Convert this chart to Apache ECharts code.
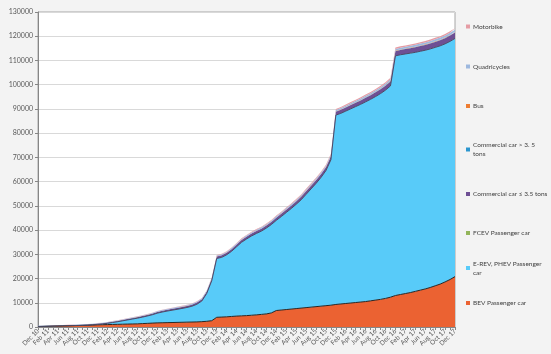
<!DOCTYPE html>
<html>
<head>
<meta charset="utf-8">
<title>EV stock</title>
<script src="https://cdn.jsdelivr.net/npm/echarts@6/dist/echarts.min.js"></script>
<style>
  html, body { margin: 0; padding: 0; background: #f3f3f3; }
  #main { width: 551px; height: 354px; }
</style>
</head>
<body>
<div id="main"></div>
<script>
// month labels Dec 10 .. Dec 17
var monthNames = ['Jan','Feb','Mar','Apr','May','Jun','Jul','Aug','Sep','Oct','Nov','Dec'];
var months = [];
for (var k = 11; k <= 11 + 84; k++) {
    months.push(monthNames[k % 12] + ' ' + (10 + Math.floor(k / 12)));
}

// stacked series, bottom to top
var bev = [200,250,300,350,400,450,500,550,600,650,700,800,900,
    950,1000,1050,1100,1150,1200,1250,1300,1400,1500,1600,1700,
    1750,1800,1850,1900,1950,2000,2050,2100,2200,2350,2600,4000,
    4100,4200,4350,4500,4600,4700,4850,5000,5200,5400,5800,6800,
    7000,7200,7400,7600,7800,8000,8200,8400,8600,8800,9000,9300,
    9500,9700,9900,10100,10300,10500,10800,11100,11400,11800,12300,13000,
    13400,13800,14200,14700,15200,15700,16300,17000,17700,18600,19600,20800];
var phev = [10,12,15,18,20,25,30,35,40,50,70,100,200,
    300,520,790,1060,1380,1700,2020,2340,2660,3030,3440,4000,
    4410,4770,5080,5390,5700,6050,6510,7270,8530,11540,16540,24290,
    24640,25600,26900,28600,30360,31610,32710,33610,34370,35420,36470,37220,
    38570,40030,41480,43030,44690,46740,48790,50840,53100,55750,60000,78150,
    78680,79410,80150,80880,81610,82440,83170,84010,84940,85970,87190,98910,
    98950,98880,98820,98650,98590,98520,98460,98390,98330,98260,98280,98300];
var fcev = [0,0,0,0,0,0,0,0,0,0,0,0,0,
    0,0,0,0,0,0,0,0,0,0,0,0,
    0,0,0,0,0,0,0,0,0,0,0,1,
    1,1,2,2,2,3,3,3,4,4,5,5,
    5,6,6,7,7,8,8,9,9,10,10,11,
    12,13,14,15,16,17,18,19,20,21,22,24,
    25,26,27,28,29,30,31,32,34,36,38,40];
var commLight = [100,110,120,130,140,150,160,175,190,205,220,235,250,
    270,290,310,330,350,370,390,410,430,450,475,500,
    520,545,570,595,620,645,670,695,720,745,770,800,
    825,850,875,900,925,950,975,1000,1025,1050,1075,1100,
    1125,1150,1175,1200,1225,1250,1275,1300,1325,1350,1375,1400,
    1440,1480,1520,1560,1600,1640,1680,1720,1760,1800,1850,1900,
    1940,1980,2020,2060,2100,2140,2180,2220,2260,2300,2350,2400];
var commHeavy = [2,2,2,2,3,3,3,3,4,4,4,5,5,
    6,6,7,7,8,8,9,9,10,10,11,12,
    13,14,15,16,17,18,19,20,21,22,23,25,
    27,29,31,33,35,37,39,41,43,45,47,50,
    52,54,56,58,60,62,64,66,68,70,72,75,
    78,81,84,87,90,93,96,99,102,105,108,110,
    111,112,113,114,115,116,117,118,119,120,121,122];
var bus = [5,5,5,6,6,6,7,7,7,8,8,9,10,
    11,12,13,14,15,16,17,18,19,20,21,22,
    23,24,25,26,27,28,29,30,31,32,33,35,
    37,39,41,43,45,47,49,51,53,55,57,60,
    62,64,66,68,70,72,74,76,78,80,82,85,
    88,91,94,97,100,103,106,109,112,115,118,120,
    123,126,129,132,135,138,141,144,147,150,153,155];
var quad = [150,152,155,158,162,166,170,174,178,182,186,190,195,
    199,203,207,211,215,219,223,228,233,238,244,250,
    258,266,274,282,290,298,306,314,322,330,340,350,
    358,366,374,382,390,398,406,414,422,430,440,450,
    458,466,474,482,490,498,506,514,522,530,540,550,
    562,574,586,598,610,622,634,646,658,670,685,700,
    716,732,748,764,780,796,812,828,844,860,880,900];
var motorbike = [30,32,34,36,38,40,42,44,46,48,50,52,55,
    60,65,70,75,80,85,90,95,100,105,110,115,
    122,129,136,143,150,157,164,171,178,185,192,200,
    210,220,230,240,250,260,270,280,290,300,310,320,
    330,340,350,360,370,380,390,400,410,420,430,440,
    450,460,470,480,490,500,510,520,530,540,550,560,
    565,570,575,580,585,590,595,600,605,610,615,620];

var seriesNames = ['BEV Passenger car', 'E-REV, PHEV Passenger car', 'FCEV Passenger car',
    'Commercial car \u2264 3.5 tons', 'Commercial car > 3. 5 tons', 'Bus', 'Quadricycles', 'Motorbike'];
var seriesData = [bev, phev, fcev, commLight, commHeavy, bus, quad, motorbike];
var colors = ['#eb6232', '#58cbf9', '#93b55a', '#6e4f94', '#2b96cf', '#ee7d32', '#9db8de', '#e59ca4'];
var lineColors = ['#2b2522', '#4a4a66', null, null, null, null, null, null];

// legend label text and vertical centre (px)
var legendLabels = {
    'Motorbike': 'Motorbike',
    'Quadricycles': 'Quadricycles',
    'Bus': 'Bus',
    'Commercial car > 3. 5 tons': 'Commercial car > 3. 5\ntons',
    'Commercial car \u2264 3.5 tons': 'Commercial car \u2264 3.5 tons',
    'FCEV Passenger car': 'FCEV Passenger car',
    'E-REV, PHEV Passenger car': 'E-REV, PHEV Passenger\ncar',
    'BEV Passenger car': 'BEV Passenger car'
};
var legendCentres = [303, 268, 233, 194, 149.5, 106, 66.5, 26.5];

var myChart = echarts.init(document.getElementById('main'));

var series = [];
var legends = [];
for (var i = 0; i < seriesNames.length; i++) {
    series.push({
        name: seriesNames[i],
        type: 'line',
        stack: 'total',
        data: seriesData[i],
        symbol: 'none',
        smooth: false,
        itemStyle: { color: colors[i] },
        lineStyle: lineColors[i] ? { color: lineColors[i], width: 1 } : { width: 0 },
        areaStyle: { color: colors[i], opacity: 1 },
        emphasis: { disabled: true }
    });
    var twoLines = legendLabels[seriesNames[i]].indexOf('\n') >= 0;
    legends.push({
        data: [seriesNames[i]],
        left: 466,
        top: legendCentres[i] - (twoLines ? 9 : 4.5),
        padding: 0,
        icon: 'rect',
        itemWidth: 4,
        itemHeight: 4,
        itemGap: 3,
        selectedMode: false,
        formatter: function (name) { return legendLabels[name]; },
        textStyle: {
            color: '#404040',
            fontSize: 6.5,
            lineHeight: 9,
            fontFamily: 'Lato',
            padding: [0, 0, 0, -2]
        }
    });
}

var option = {
    backgroundColor: '#f3f3f3',
    animation: false,
    color: colors,
    legend: legends,
    grid: {
        left: 38,
        right: 96,
        top: 12,
        bottom: 27,
        show: true,
        backgroundColor: '#ffffff',
        borderColor: '#a6a6a6',
        borderWidth: 1
    },
    xAxis: {
        type: 'category',
        data: months,
        boundaryGap: false,
        axisLine: { lineStyle: { color: '#868686' } },
        axisTick: { show: true, interval: 0, length: 3, lineStyle: { color: '#868686' } },
        axisLabel: {
            interval: 1,
            rotate: 45,
            fontSize: 6.5,
            fontFamily: 'Lato',
            color: '#595959',
            margin: 3
        },
        splitLine: { show: false }
    },
    yAxis: {
        type: 'value',
        min: 0,
        max: 130000,
        interval: 10000,
        axisLine: { show: true, lineStyle: { color: '#868686' } },
        axisTick: { show: true, length: 3, lineStyle: { color: '#868686' } },
        axisLabel: {
            fontSize: 7,
            fontFamily: 'Lato',
            color: '#595959',
            margin: 5,
            formatter: function (v) { return String(v); }
        },
        splitLine: { lineStyle: { color: '#d9d9d9', width: 1 } }
    },
    series: series
};
myChart.setOption(option);
</script>
</body>
</html>
